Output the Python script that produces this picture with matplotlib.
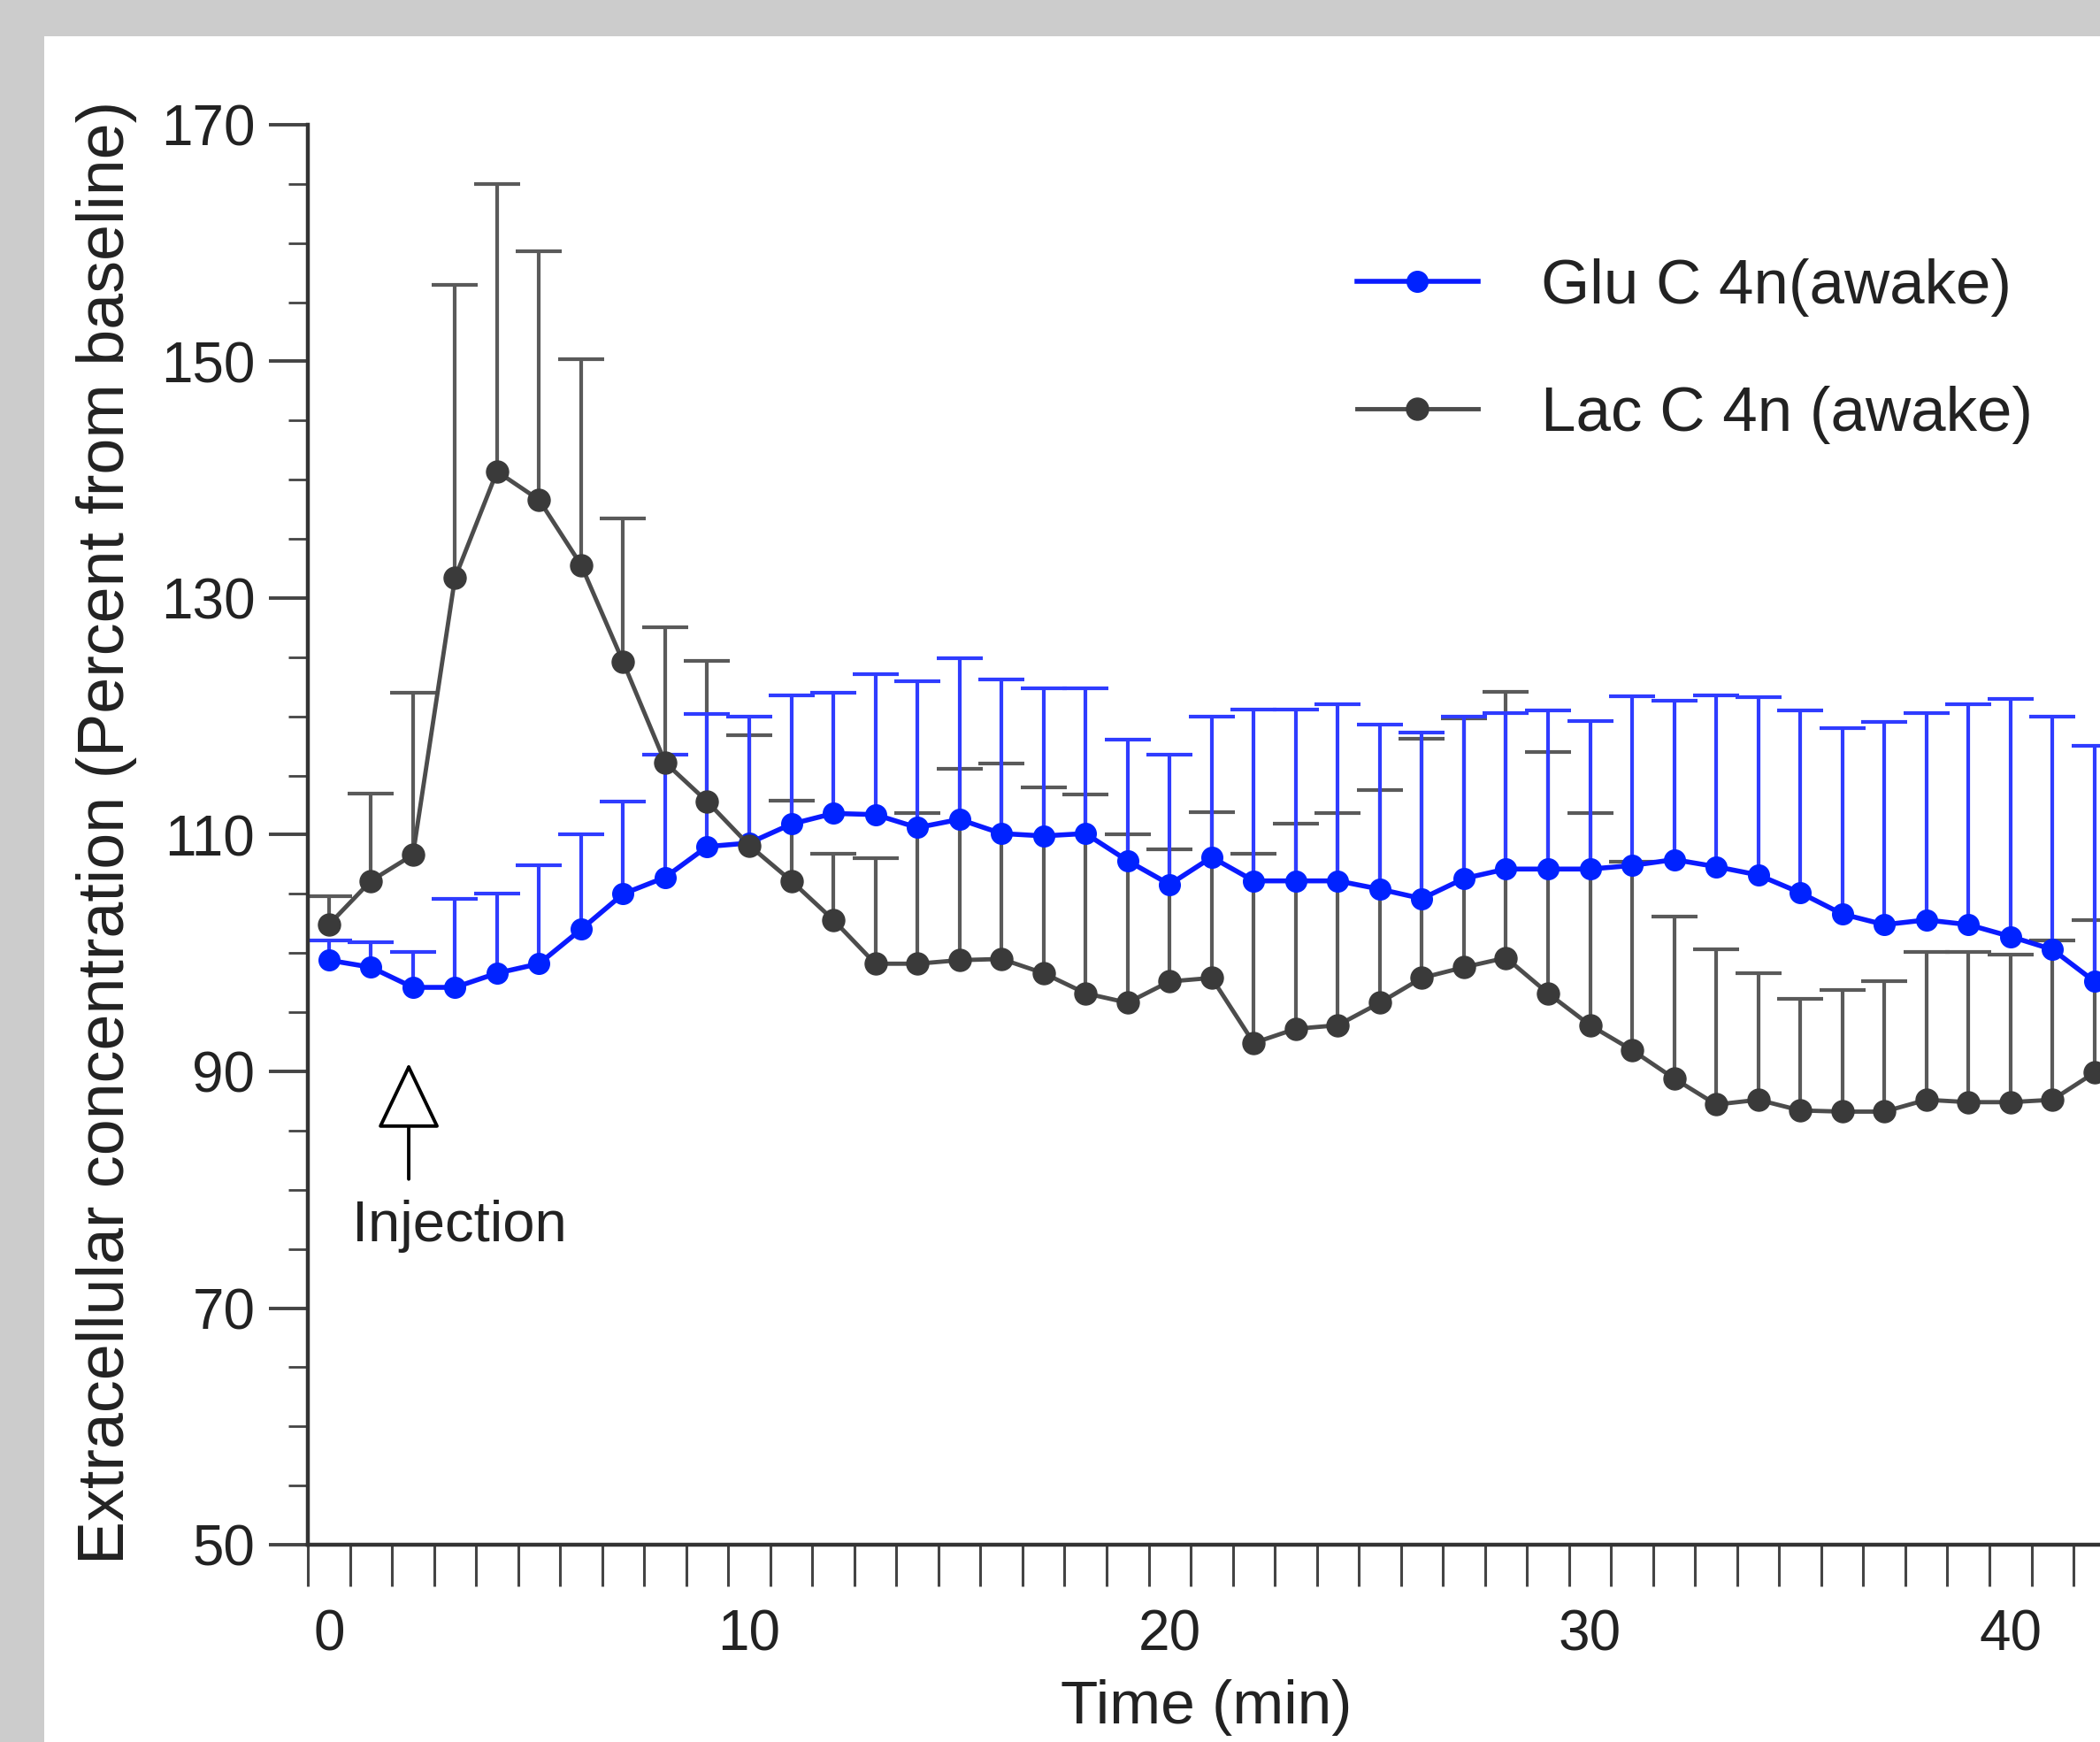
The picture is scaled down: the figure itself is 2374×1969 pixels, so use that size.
import numpy as np
import matplotlib
matplotlib.use("Agg")
import matplotlib.pyplot as plt
from matplotlib.patches import Rectangle

# ---------------- data ----------------
time_min = list(range(43))
glu_mean = [99.4, 98.8, 97.1, 97.1, 98.3, 99.1, 102.0, 105.0, 106.4, 109.0,
            109.3, 110.9, 111.8, 111.7, 110.6, 111.3, 110.1, 109.9, 110.1, 107.8,
            105.8, 108.1, 106.1, 106.1, 106.1, 105.4, 104.6, 106.3, 107.1, 107.1,
            107.1, 107.4, 107.9, 107.3, 106.6, 105.1, 103.3, 102.4, 102.8, 102.4,
            101.4, 100.3, 97.6]
glu_upper = [101.1, 100.9, 100.1, 104.6, 105.0, 107.4, 110.0, 112.8, 116.8, 120.2,
             120.0, 121.8, 122.0, 123.6, 123.0, 124.9, 123.1, 122.4, 122.4, 118.0,
             116.8, 120.0, 120.6, 120.6, 121.0, 119.3, 118.6, 120.0, 120.3, 120.5,
             119.6, 121.7, 121.3, 121.8, 121.6, 120.5, 119.0, 119.5, 120.3, 121.0,
             121.5, 120.0, 117.5]
lac_mean = [102.4, 106.1, 108.3, 131.7, 140.7, 138.3, 132.8, 124.6, 116.1, 112.8,
            109.1, 106.1, 102.8, 99.1, 99.1, 99.4, 99.5, 98.3, 96.6, 95.8,
            97.6, 97.9, 92.4, 93.6, 93.9, 95.8, 97.9, 98.8, 99.6, 96.6,
            93.9, 91.8, 89.4, 87.2, 87.6, 86.7, 86.6, 86.6, 87.6, 87.4,
            87.4, 87.6, 89.9]
lac_upper = [104.8, 113.5, 122.0, 156.5, 165.0, 159.3, 150.2, 136.7, 127.5, 124.7,
             118.4, 112.9, 108.4, 108.0, 111.8, 115.6, 116.0, 114.0, 113.4, 110.0,
             108.8, 111.9, 108.4, 110.9, 111.8, 113.8, 118.1, 119.8, 122.1, 117.0,
             111.8, 107.7, 103.1, 100.3, 98.3, 96.1, 96.9, 97.6, 100.1, 100.1,
             99.9, 101.1, 102.8]
series_labels = ["Glu C 4n(awake)", "Lac C 4n (awake)"]
x_tick_values = [0, 10, 20, 30, 40]
y_tick_values = [50, 70, 90, 110, 130, 150, 170]
injection_time = 1.9
x_label = "Time (min)"
y_label = "Extracellular concentration (Percent from baseline)"

# ---------------- style ----------------
plt.rcParams['font.family'] = ['Liberation Sans', 'DejaVu Sans']
TXT = '#222222'
W, H = 2374, 1969
fig = plt.figure(figsize=(W / 100, H / 100), dpi=100, facecolor='#cccccc')
fig.patches.append(Rectangle((50 / W, 0), 1 - 50 / W, 1 - 41 / H,
                             transform=fig.transFigure, facecolor='white',
                             edgecolor='none', zorder=-1))

ax = fig.add_axes([348 / W, (H - 1746) / H, 1 - 348 / W, (1746 - 141) / H])
ax.set_facecolor('none')

x = np.array(time_min, dtype=float)


def draw_series(mean, upper, ecolor, z):
    mean = np.asarray(mean)
    err = np.asarray(upper) - mean
    eb = ax.errorbar(x, mean, yerr=[np.zeros_like(err), err], fmt='none',
                     ecolor=ecolor, elinewidth=3.0, capsize=19, capthick=3.0,
                     zorder=z)
    for cl in eb[1]:
        if np.allclose(cl.get_ydata(), mean):
            cl.set_visible(False)
    return eb


draw_series(lac_mean, lac_upper, '#5a5a5a', 1)
draw_series(glu_mean, glu_upper, '#2f3cff', 2)
glu_line, = ax.plot(x, glu_mean, color='#0a1aff', lw=4, marker='o', ms=17,
                    mfc='#0022ff', mec='#0022ff', zorder=3)
lac_line, = ax.plot(x, lac_mean, color='#4c4c4c', lw=3.5, marker='o', ms=18,
                    mfc='#3a3a3a', mec='#3a3a3a', zorder=4)

ax.set_xlim(-0.5, 42.13)
ax.set_ylim(50, 170)

ax.set_xticks(x_tick_values)
ax.set_xticklabels([str(v) for v in x_tick_values])
ax.set_xticks(np.arange(-0.5, 42.2, 1.0), minor=True)
ax.tick_params(axis='x', which='major', length=0, pad=52, labelsize=46, labelcolor=TXT)
ax.tick_params(axis='x', which='minor', length=34, width=2.2, color='#444444', direction='out')

ax.set_yticks(y_tick_values)
ax.set_yticklabels([str(v) for v in y_tick_values])
ax.set_yticks(np.arange(50, 171, 5), minor=True)
ax.tick_params(axis='y', which='major', length=32, width=2.8, pad=11, labelsize=46,
               labelcolor=TXT, color='#444444', direction='out')
ax.tick_params(axis='y', which='minor', length=16, width=2.0, color='#444444', direction='out')

for s in ['top', 'right']:
    ax.spines[s].set_visible(False)
for s in ['left', 'bottom']:
    ax.spines[s].set_linewidth(3.2)
    ax.spines[s].set_color('#333333')

ax.set_xlabel(x_label, fontsize=50, color=TXT, va='center')
ax.xaxis.set_label_coords(1364 / W, (H - 1930) / H, transform=fig.transFigure)
ax.set_ylabel(y_label, fontsize=53, color=TXT, va='center')
ax.yaxis.set_label_coords(121 / W, (H - 941) / H, transform=fig.transFigure)

# injection marker
ax.annotate('', xy=(injection_time, 90.7), xytext=(injection_time, 80.9),
            arrowprops=dict(arrowstyle='-|>,head_length=0.48,head_width=0.23',
                            mutation_scale=100, fc='white', ec='black', lw=2.8,
                            shrinkA=0, shrinkB=0), zorder=5)
ax.text(injection_time + 1.2, 76.9, 'Injection', fontsize=47, color=TXT,
        ha='center', va='center')

ax.legend(handles=[glu_line, lac_line], labels=series_labels, loc='upper left',
          bbox_to_anchor=(1534 / W, 1 - 292 / H), bbox_transform=fig.transFigure,
          frameon=False, fontsize=51, handlelength=1.93, handletextpad=1.0,
          labelspacing=1.1, borderpad=0, borderaxespad=0, numpoints=1,
          labelcolor=TXT)

fig.savefig('out.png', dpi=100, facecolor=fig.get_facecolor())
